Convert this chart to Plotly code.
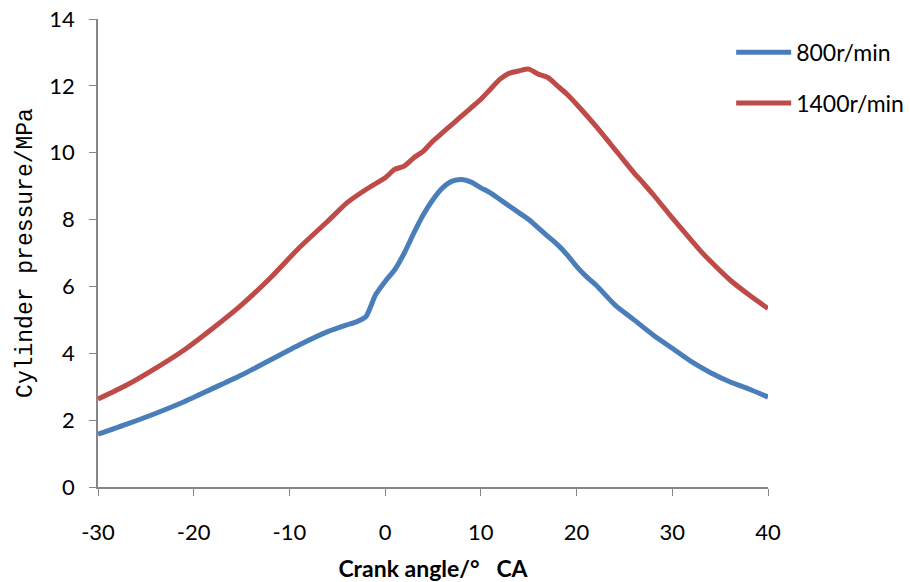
import plotly.graph_objects as go

crank_800 = [-30, -27, -24, -21, -18, -15, -12, -9, -6, -4, -3, -2, -1, 0, 1, 2, 3, 4, 5, 6, 7, 8, 9, 10,
             11, 12, 13, 14, 15, 16, 17, 18, 19, 20, 21, 22, 24, 25, 26, 28, 30, 32, 34, 36, 38, 40]
p_800 = [1.58, 1.88, 2.2, 2.55, 2.95, 3.35, 3.8, 4.25, 4.65, 4.85, 4.94, 5.1, 5.75, 6.15, 6.5, 7.0, 7.6, 8.15,
         8.6, 8.95, 9.15, 9.2, 9.12, 8.95, 8.8, 8.6, 8.4, 8.2, 8.0, 7.75, 7.5, 7.25, 6.95, 6.6, 6.3, 6.05,
         5.45, 5.22, 5.0, 4.55, 4.15, 3.75, 3.42, 3.15, 2.93, 2.69]

crank_1400 = [-30, -27, -24, -21, -18, -15, -12, -9, -6, -4, -2, 0, 1, 2, 3, 4, 5, 6, 7, 8, 9, 10, 11, 12,
              13, 14, 15, 16, 17, 18, 19, 20, 22, 24, 25, 26, 27, 28, 30, 32, 33, 34, 36, 38, 40]
p_1400 = [2.63, 3.05, 3.55, 4.1, 4.75, 5.45, 6.25, 7.15, 7.95, 8.5, 8.9, 9.25, 9.5, 9.6, 9.85, 10.05, 10.35,
          10.6, 10.85, 11.1, 11.35, 11.6, 11.9, 12.2, 12.38, 12.45, 12.5, 12.35, 12.25, 12.0, 11.75, 11.45,
          10.8, 10.1, 9.75, 9.4, 9.08, 8.75, 8.05, 7.38, 7.05, 6.75, 6.2, 5.75, 5.34]

x_ticks = [-30, -20, -10, 0, 10, 20, 30, 40]
x_tick_labels = ["-30", "-20", "-10", "0", "10", "20", "30", "40"]
y_ticks = [0, 2, 4, 6, 8, 10, 12, 14]
y_tick_labels = ["0", "2", "4", "6", "8", "10", "12", "14"]

fig = go.Figure()
fig.add_trace(go.Scatter(x=crank_800, y=p_800, mode="lines", name="800r/min",
                         line=dict(color="#4A7EBB", width=5, shape="spline", smoothing=0.6),
                         legendgroup="a"))
fig.add_trace(go.Scatter(x=crank_1400, y=p_1400, mode="lines", name="1400r/min",
                         line=dict(color="#BE4B48", width=5, shape="spline", smoothing=0.6),
                         legendgroup="b"))

axis_col = "#868686"
fig.update_layout(
    width=910, height=582,
    margin=dict(l=98, r=142, t=19, b=95, autoexpand=False),
    plot_bgcolor="white", paper_bgcolor="white",
    font=dict(family="Lato", size=22, color="black"),
    showlegend=True,
    legend=dict(x=0.945, y=0.975, xanchor="left", yanchor="top", tracegroupgap=18,
                traceorder="grouped", font=dict(family="Lato", size=23),
                itemwidth=55, bgcolor="rgba(0,0,0,0)"),
    xaxis=dict(range=[-30, 40], tickvals=x_ticks, ticktext=x_tick_labels, ticks="outside", ticklen=7,
               tickcolor=axis_col, showline=True, linecolor=axis_col, linewidth=1.5, showgrid=False,
               zeroline=False, ticklabelstandoff=18,
               title=dict(text="<b>Crank angle/°   CA</b>", font=dict(family="Lato", size=23), standoff=24)),
    yaxis=dict(range=[0, 14], tickvals=y_ticks, ticktext=y_tick_labels, ticks="outside", ticklen=7,
               tickcolor=axis_col, showline=True, linecolor=axis_col, linewidth=1.5, showgrid=False,
               zeroline=False, ticklabelstandoff=10,
               title=dict(text="Cylinder pressure/MPa", font=dict(family="Liberation Mono", size=23), standoff=10)),
)

fig.write_html("out.html")
